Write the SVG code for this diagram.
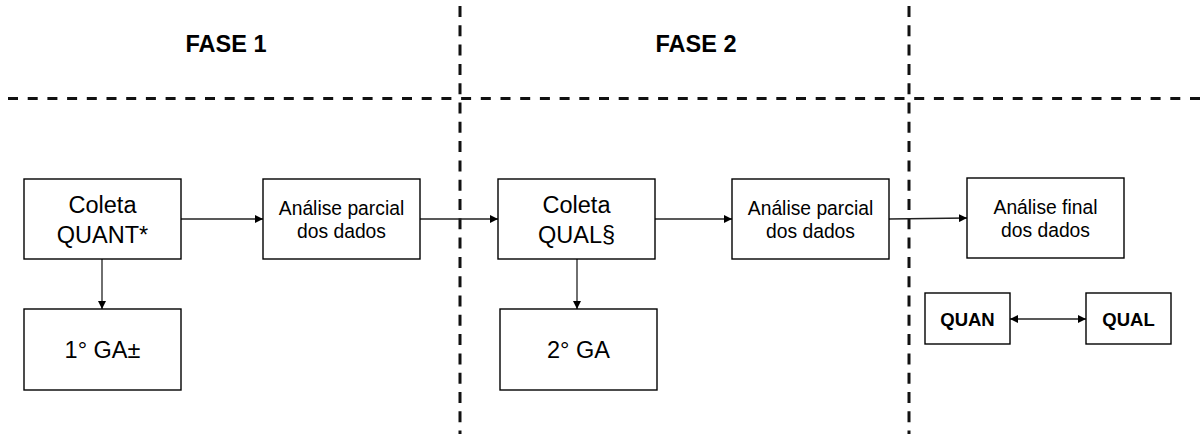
<svg xmlns="http://www.w3.org/2000/svg" width="1201" height="434" viewBox="0 0 1201 434">
  <style>
    .box { fill: #ffffff; stroke: #000000; stroke-width: 1.4; }
    .lbl { font-family: "Liberation Sans", Arial, sans-serif; fill: #000000; text-anchor: middle; }
    .big { font-size: 23.5px; }
    .mid { font-size: 19.3px; }
    .hdr { font-family: "Liberation Sans", Arial, sans-serif; font-weight: bold; font-size: 23.5px; fill: #000000; text-anchor: middle; }
    .tag { font-weight: bold; font-size: 18.5px; }
    .sep { stroke: #111111; stroke-width: 3; fill: none; }
    .link { stroke: #222222; stroke-width: 1.3; fill: none; }
  </style>
  <defs>
    <marker id="arrowEnd" viewBox="0 0 10 10" refX="10" refY="5" markerWidth="8" markerHeight="8" markerUnits="userSpaceOnUse" orient="auto">
      <path d="M0,0 L10,5 L0,10 Z" fill="#000000"/>
    </marker>
    <marker id="arrowStart" viewBox="0 0 10 10" refX="0" refY="5" markerWidth="8" markerHeight="8" markerUnits="userSpaceOnUse" orient="auto">
      <path d="M10,0 L0,5 L10,10 Z" fill="#000000"/>
    </marker>
  </defs>

  <rect width="1201" height="434" fill="#ffffff"/>

  <!-- phase separators -->
  <g id="separators">
    <line class="sep" x1="8" y1="98.5" x2="1201" y2="98.5" stroke-dasharray="10 9.7"/>
    <line class="sep" x1="460" y1="6" x2="460" y2="434" stroke-dasharray="11 8.3"/>
    <line class="sep" x1="909" y1="6" x2="909" y2="434" stroke-dasharray="11 8.3"/>
  </g>

  <!-- phase headings -->
  <g id="headings">
    <text class="hdr" x="226" y="52">FASE 1</text>
    <text class="hdr" x="696" y="52">FASE 2</text>
  </g>

  <!-- connectors -->
  <g id="connectors">
    <line class="link" x1="181" y1="219" x2="263" y2="219" marker-end="url(#arrowEnd)"/>
    <line class="link" x1="420" y1="219" x2="498" y2="219" marker-end="url(#arrowEnd)"/>
    <line class="link" x1="655" y1="219" x2="732" y2="219" marker-end="url(#arrowEnd)"/>
    <line class="link" x1="889" y1="219" x2="967" y2="218" marker-end="url(#arrowEnd)"/>
    <line class="link" x1="102" y1="259" x2="102" y2="309" marker-end="url(#arrowEnd)"/>
    <line class="link" x1="577" y1="259" x2="577" y2="309" marker-end="url(#arrowEnd)"/>
    <line class="link" x1="1010" y1="319" x2="1086" y2="319" marker-start="url(#arrowStart)" marker-end="url(#arrowEnd)"/>
  </g>

  <!-- phase 1 -->
  <g id="coleta-quant">
    <rect class="box" x="24" y="179" width="157" height="80"/>
    <text class="lbl big" x="102.5" y="212.5">Coleta</text>
    <text class="lbl big" x="102.5" y="243">QUANT*</text>
  </g>
  <g id="ga1">
    <rect class="box" x="24" y="309" width="157" height="81"/>
    <text class="lbl big" x="102.5" y="358">1° GA±</text>
  </g>
  <g id="analise-parcial-1">
    <rect class="box" x="263" y="179" width="157" height="80"/>
    <text class="lbl mid" x="341.5" y="215">Análise parcial</text>
    <text class="lbl mid" x="341.5" y="237.5">dos dados</text>
  </g>

  <!-- phase 2 -->
  <g id="coleta-qual">
    <rect class="box" x="498" y="179" width="157" height="80"/>
    <text class="lbl big" x="576.5" y="212.5">Coleta</text>
    <text class="lbl big" x="576.5" y="243">QUAL§</text>
  </g>
  <g id="ga2">
    <rect class="box" x="500" y="309" width="157" height="81"/>
    <text class="lbl big" x="578.5" y="358">2° GA</text>
  </g>
  <g id="analise-parcial-2">
    <rect class="box" x="732" y="179" width="157" height="80"/>
    <text class="lbl mid" x="810.5" y="215">Análise parcial</text>
    <text class="lbl mid" x="810.5" y="237.5">dos dados</text>
  </g>

  <!-- final stage -->
  <g id="analise-final">
    <rect class="box" x="967" y="178" width="157" height="80"/>
    <text class="lbl mid" x="1045.5" y="214">Análise final</text>
    <text class="lbl mid" x="1045.5" y="236.5">dos dados</text>
  </g>
  <g id="quan">
    <rect class="box" x="925" y="293" width="85" height="51"/>
    <text class="lbl tag" x="967.5" y="325.5">QUAN</text>
  </g>
  <g id="qual">
    <rect class="box" x="1086" y="293" width="85" height="51"/>
    <text class="lbl tag" x="1128.5" y="325.5">QUAL</text>
  </g>
</svg>
